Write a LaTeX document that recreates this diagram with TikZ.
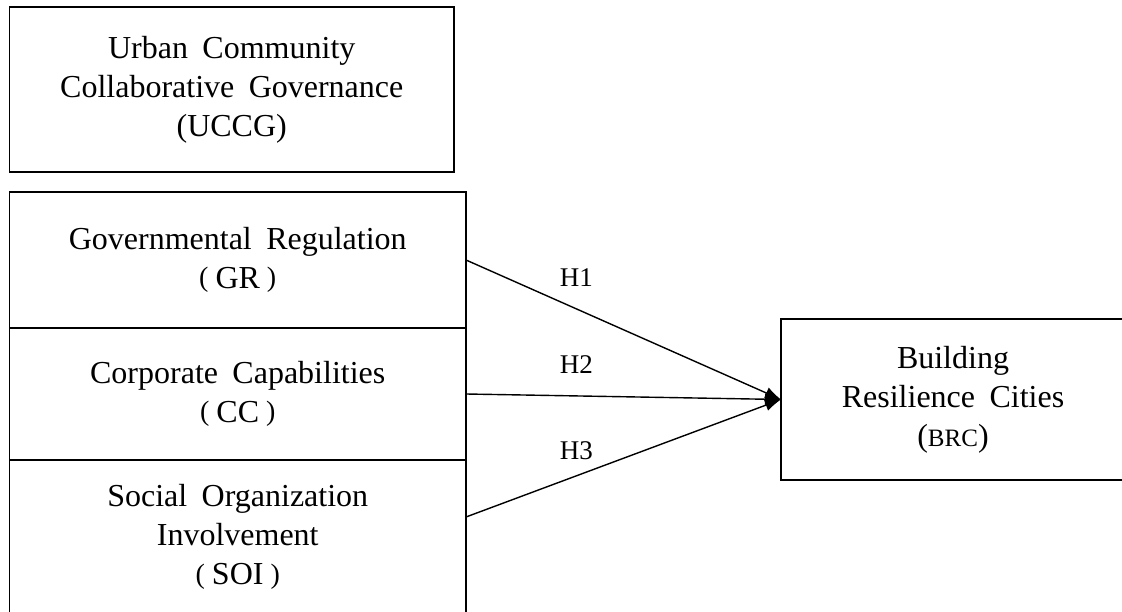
\documentclass[tikz,border=0pt]{standalone}
\usepackage{fontspec}
\setmainfont{Liberation Serif}
\usetikzlibrary{arrows.meta, positioning}

\newcommand{\boxfont}{\fontsize{32}{39}\selectfont\spaceskip 0.45em plus 0.1em\relax}
\newcommand{\lpar}{\raisebox{1.5pt}{\fontsize{28}{39}\selectfont (}\hspace{7pt}}
\newcommand{\rpar}{\hspace{7pt}\raisebox{1.5pt}{\fontsize{28}{39}\selectfont )}}

\begin{document}
\begin{tikzpicture}[x=1pt, y=-1pt]
        \tikzstyle{factor} = [rectangle, draw, line width=1.5pt, outer sep=0pt, text centered, align=center, font=\boxfont]
        \tikzstyle{hyp} = [inner sep=0pt, font=\fontsize{27}{32}\selectfont]
        \tikzstyle{effect} = [-{Latex[length=16pt, width=12pt]}, line width=1.4pt]

        \useasboundingbox (0,0) rectangle (1122,612);
        \clip (0,0) rectangle (1122,612);

        \node (uccg) [factor, minimum width=444.5pt, minimum height=165pt] at (231.75,89.5) {
            Urban Community \\
            Collaborative Governance \\
            (UCCG)
        };

        \node (gr) [factor, minimum width=456.5pt, minimum height=136pt] at (237.75,260) {
            Governmental Regulation \\
            \lpar GR\rpar
        };

        \node (cc) [factor, below=0pt of gr, minimum width=456.5pt, minimum height=132pt] {
            Corporate Capabilities \\
            \lpar CC\rpar
        };

        \node (soi) [factor, below=0pt of cc, minimum width=456.5pt, minimum height=154pt] {
            Social Organization \\
            Involvement \\
            \lpar SOI\rpar
        };

        \node (brc) [factor, minimum width=344pt, minimum height=161pt] at (953,399.5) {
            Building \\
            Resilience Cities \\
            ({\fontsize{25}{39}\selectfont BRC})
        };

        \draw [effect] (gr.east) -- node [hyp, pos=0.35, above=22pt] {H1} (brc.west);
        \draw [effect] (cc.east) -- node [hyp, pos=0.35, above=22pt] {H2} (brc.west);
        \draw [effect] ([yshift=20pt]soi.east) -- node [hyp, pos=0.35, above=15pt] {H3} (brc.west);
    \end{tikzpicture}
\end{document}
